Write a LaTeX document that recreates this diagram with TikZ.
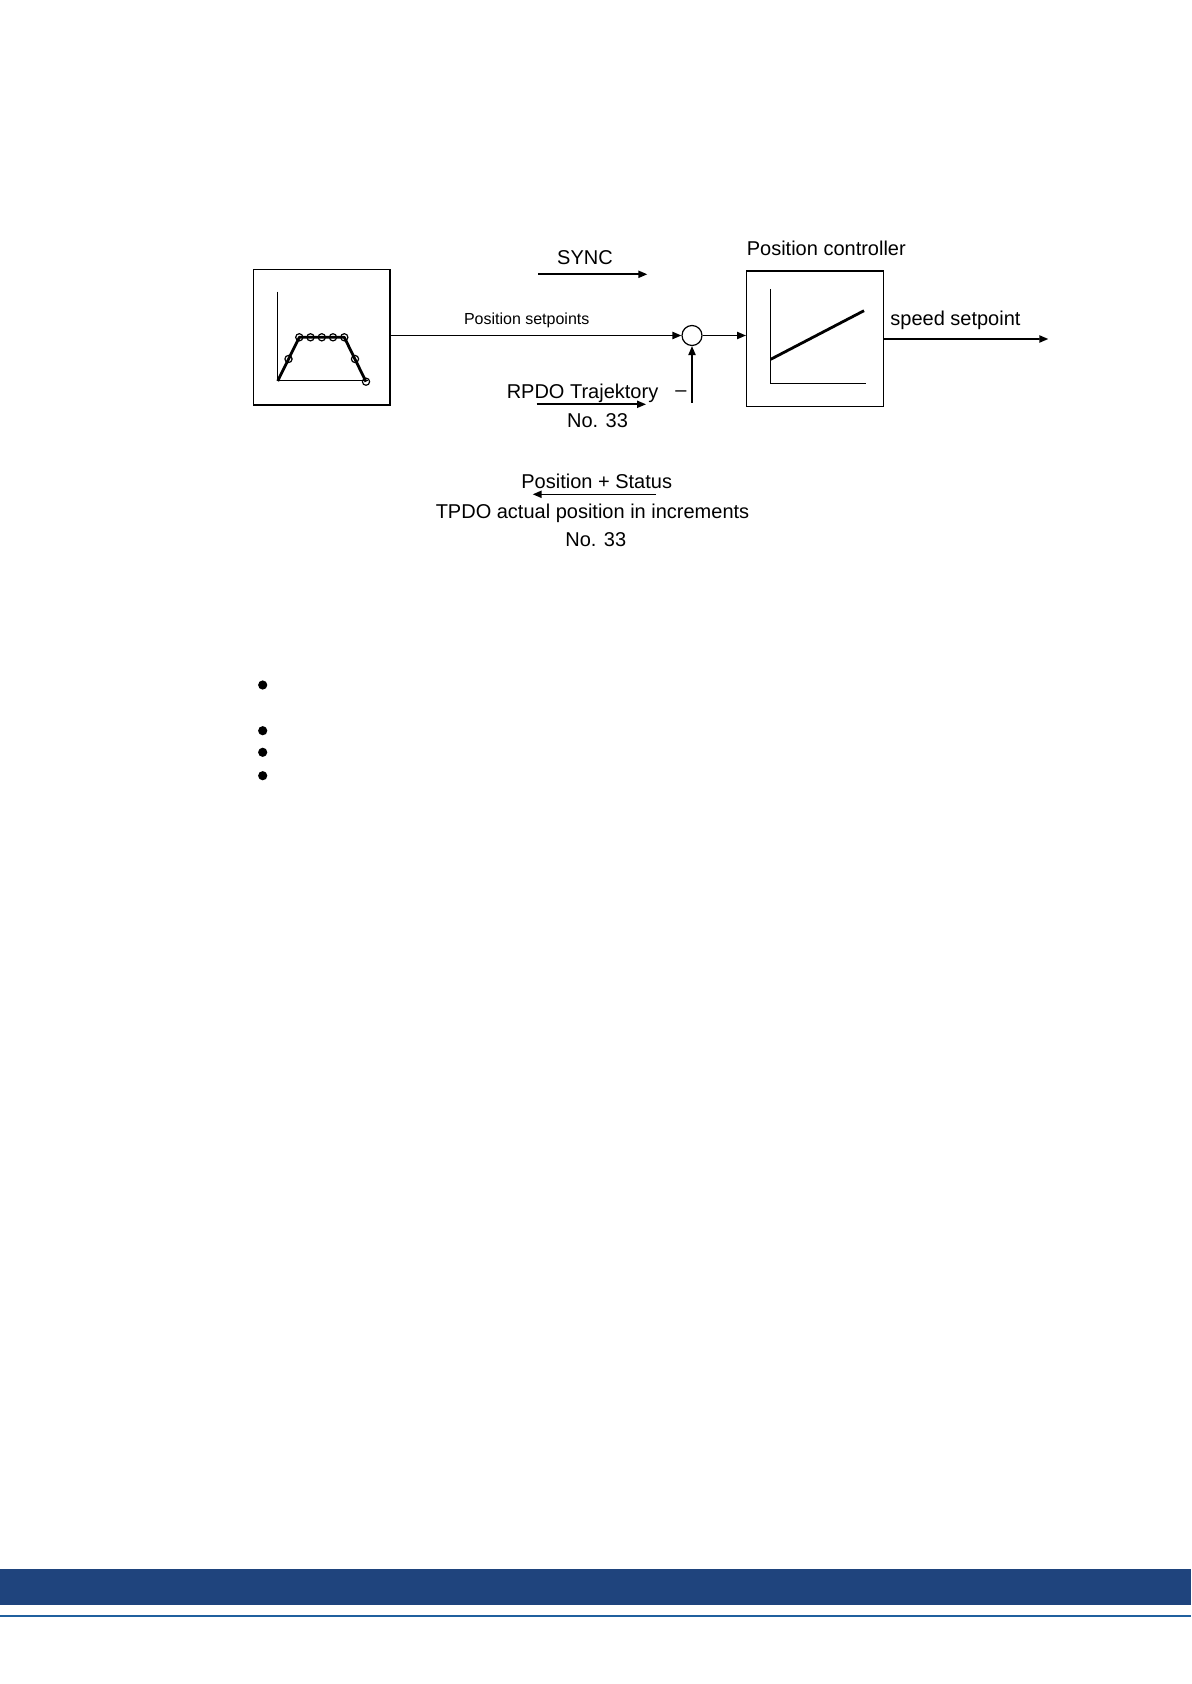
\documentclass[tikz,border=0pt]{standalone}
\usepackage{fontspec}
\setmainfont{Liberation Sans}
\usepackage{tikz}
\usetikzlibrary{arrows.meta, positioning, calc}
\definecolor{bandblue}{RGB}{31, 68, 125}
\definecolor{lineblue}{RGB}{32, 96, 158}

\tikzset{
    blockbox/.style={draw, line width=0.7pt, minimum width=68.3pt, minimum height=67.8pt, inner sep=0pt},
    sumcircle/.style={draw, circle, line width=0.6pt, minimum size=10pt, inner sep=0pt},
    lbl/.style={font=\fontsize{10}{12}\selectfont, inner sep=0pt, anchor=base},
    smalllbl/.style={font=\fontsize{8}{10}\selectfont, inner sep=0pt, anchor=base},
    sig/.style={line width=0.8pt, -{Triangle[length=4.5pt, width=3.6pt]}},
    axis/.style={line width=0.5pt},
    curve/.style={line width=1.4pt, line join=round},
}

\begin{document}
\begin{tikzpicture}[x=0.5pt, y=-0.5pt]
    \useasboundingbox (0,0) rectangle (1191,1684);

    % Blocks
    \node[blockbox] (trajbox) at (321.7, 337.2) {};
    \node[sumcircle] (sum) at (692, 335.5) {};
    \node[blockbox] (ctrlbox) at (815, 338.8) {};

    % Trajectory inside the left block
    \draw[axis] (277.7, 291.7) -- (277.7, 381) -- (368.3, 381);
    \draw[curve] (277.7, 381) -- (299.3, 337.3) -- (344.3, 337.3) -- (366, 381.7);
    \foreach \x/\y in {288.5/359, 355/359, 366/381.7}
        \draw[line width=0.6pt] (\x, \y) circle[radius=1.8pt];
    \foreach \x in {299.3, 310.5, 321.8, 333, 344.3}
        \draw[line width=0.6pt] (\x, 337.3) circle[radius=1.8pt];

    % Characteristic inside the controller block
    \draw[axis] (770.7, 289) -- (770.7, 383.3) -- (866, 383.3);
    \draw[curve] (770.7, 359.3) -- (864, 310.7);

    % Signal lines
    \draw[sig] (trajbox.east |- sum.west) -- (sum.west);
    \draw[sig] (sum.east) -- (ctrlbox.west |- sum.east);
    \coordinate (fbstart) at (692, 403);
    \draw[sig] (fbstart) -- (sum.south);
    \coordinate (outstart) at ($(ctrlbox.east) + (0, 0.2)$);
    \coordinate (outend) at (1048.3, 339);
    \draw[sig] (outstart) -- (outend);

    % Labels
    \node[lbl] (synclbl) at (585, 265) {SYNC};
    \coordinate (syncA) at (538.3, 274.3);
    \coordinate (syncB) at (647.3, 274.3);
    \draw[sig] (syncA) -- (syncB);

    \node[lbl] (ctrllbl) at (826.3, 255.7) {Position controller};
    \node[smalllbl] (setplbl) at (526.7, 325) {Position setpoints};
    \node[lbl, anchor=base west] (speedlbl) at (890, 326) {speed setpoint};

    \node[lbl] (rpdolbl) at (582.5, 398.3) {RPDO Trajektory};
    \coordinate (rpdoA) at (536.7, 404.3);
    \coordinate (rpdoB) at (646, 404.3);
    \draw[sig] (rpdoA) -- (rpdoB);
    \node[lbl] (rpdono) at (597.5, 427.3) {No. 33};
    \node[lbl] (minuslbl) at (681, 396.5) {\textendash};

    \node[lbl] (statuslbl) at (596.7, 488.3) {Position + Status};
    \coordinate (tpdoA) at (656, 494.3);
    \coordinate (tpdoB) at (532.7, 494.3);
    \draw[sig] (tpdoA) -- (tpdoB);
    \node[lbl] (tpdolbl) at (592.5, 518.3) {TPDO actual position in increments};
    \node[lbl] (tpdono) at (595.8, 546.7) {No. 33};

    % Bullets
    \foreach \y in {685, 730.7, 752.3, 775.7}
        \fill (262.7, \y) circle[radius=2.3pt];

    % Footer band
    \fill[bandblue] (0, 1569) rectangle (1191, 1605);
    \draw[lineblue, line width=1.4pt] (0, 1616) -- (1191, 1616);
\end{tikzpicture}
\end{document}
